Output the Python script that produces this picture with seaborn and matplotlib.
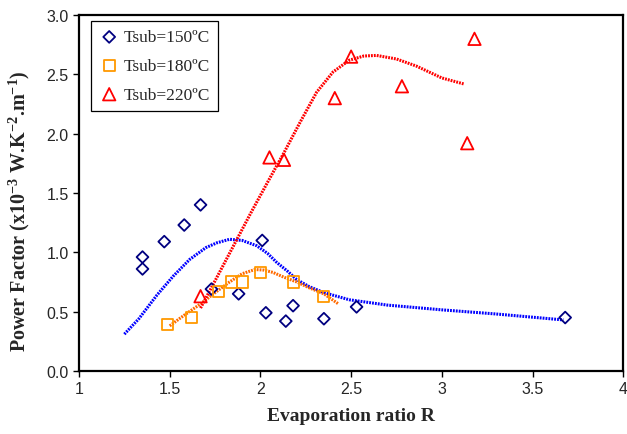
import matplotlib
matplotlib.use("Agg")
import matplotlib.pyplot as plt
import seaborn as sns
import pandas as pd

# ---- data: measured points ----
x150 = [1.35, 1.35, 1.47, 1.58, 1.67, 1.73, 1.88, 2.01, 2.03, 2.14, 2.18, 2.35, 2.53, 3.68]
y150 = [0.96, 0.86, 1.09, 1.23, 1.40, 0.69, 0.65, 1.10, 0.49, 0.42, 0.55, 0.44, 0.54, 0.45]

x180 = [1.49, 1.62, 1.77, 1.84, 1.90, 2.00, 2.18, 2.35]
y180 = [0.39, 0.45, 0.67, 0.75, 0.75, 0.83, 0.75, 0.63]

x220 = [1.67, 2.05, 2.13, 2.41, 2.50, 2.78, 3.14, 3.18]
y220 = [0.63, 1.80, 1.78, 2.30, 2.65, 2.40, 1.92, 2.80]

# ---- data: trend curves ----
cx150 = [1.25, 1.33, 1.43, 1.52, 1.61, 1.70, 1.76, 1.83, 1.90, 1.98, 2.04, 2.09, 2.15,
         2.20, 2.27, 2.35, 2.49, 2.70, 3.00, 3.30, 3.67]
cy150 = [0.31, 0.44, 0.64, 0.80, 0.94, 1.04, 1.08, 1.11, 1.10, 1.055, 0.99, 0.915, 0.84,
         0.77, 0.71, 0.66, 0.60, 0.555, 0.515, 0.48, 0.43]

cx180 = [1.50, 1.58, 1.67, 1.75, 1.83, 1.90, 1.97, 2.02, 2.07, 2.13, 2.20, 2.27, 2.35, 2.43]
cy180 = [0.38, 0.47, 0.565, 0.66, 0.75, 0.82, 0.855, 0.85, 0.83, 0.79, 0.75, 0.70, 0.65, 0.565]

cx220 = [1.67, 1.75, 1.85, 1.95, 2.05, 2.13, 2.22, 2.31, 2.40, 2.49, 2.57, 2.64, 2.75,
         2.86, 3.00, 3.12]
cy220 = [0.53, 0.76, 1.05, 1.34, 1.62, 1.84, 2.10, 2.35, 2.52, 2.62, 2.655, 2.66, 2.63,
         2.57, 2.47, 2.42]

labels = ["Tsub=150ºC", "Tsub=180ºC", "Tsub=220ºC"]
xticks = [1, 1.5, 2, 2.5, 3, 3.5, 4]
xticklabels = ["1", "1.5", "2", "2.5", "3", "3.5", "4"]
yticks = [0.0, 0.5, 1.0, 1.5, 2.0, 2.5, 3.0]

sns.set_style("white")
plt.rcParams["font.family"] = ["Liberation Sans", "DejaVu Sans"]
plt.rcParams["mathtext.fontset"] = "custom"
plt.rcParams["mathtext.rm"] = "Liberation Serif:bold"
plt.rcParams["mathtext.bf"] = "Liberation Serif:bold"
plt.rcParams["mathtext.default"] = "rm"

fig = plt.figure(figsize=(6.27, 4.35), dpi=100)
ax = fig.add_axes([0.126, 0.145, 0.868, 0.818])

curve_style = dict(linewidth=2.2, linestyle=(0, (0.6, 0.35)), sort=False, estimator=None)
sns.lineplot(x=cx150, y=cy150, color="#0000FF", ax=ax, **curve_style)
sns.lineplot(x=cx180, y=cy180, color="#FF6A00", ax=ax, **curve_style)
sns.lineplot(x=cx220, y=cy220, color="#FF0000", ax=ax, **curve_style)

sns.scatterplot(x=x150, y=y150, marker="D", s=36, facecolor="none",
                edgecolor="#000080", linewidth=1.3, ax=ax, label=labels[0], zorder=5)
sns.scatterplot(x=x180, y=y180, marker="s", s=64, facecolor="none",
                edgecolor="#FF9900", linewidth=1.3, ax=ax, label=labels[1], zorder=5)
sns.scatterplot(x=x220, y=y220, marker="^", s=80, facecolor="none",
                edgecolor="#FF0000", linewidth=1.3, ax=ax, label=labels[2], zorder=5)

ax.set_xlim(1, 4)
ax.set_ylim(0, 3.0)
ax.set_xticks(xticks)
ax.set_xticklabels(xticklabels)
ax.set_yticks(yticks)
ax.set_yticklabels([f"{v:.1f}" for v in yticks])
ax.tick_params(axis="both", direction="out", length=4, width=1, labelsize=11.5,
               color="black", bottom=True, left=True)
for s in ax.spines.values():
    s.set_color("black")
    s.set_linewidth(1.6)

ax.set_xlabel("Evaporation ratio R", family="Liberation Serif", fontweight="bold",
              fontsize=14, labelpad=8)
ax.set_ylabel("Power Factor (x10$^{-3}$ W.K$^{-2}$.m$^{-1}$)", family="Liberation Serif",
              fontweight="bold", fontsize=14.5)
ax.yaxis.set_label_coords(-0.087, 0.452)

leg = ax.legend(loc="upper left", bbox_to_anchor=(0.022, 0.982), borderaxespad=0,
                frameon=True, fancybox=False, edgecolor="black", framealpha=1,
                prop={"family": "Liberation Serif", "size": 12.5}, labelspacing=0.72,
                handletextpad=0.25, borderpad=0.45, handlelength=1.2)
leg.get_frame().set_linewidth(0.9)

fig.savefig("out.png", dpi=100)
